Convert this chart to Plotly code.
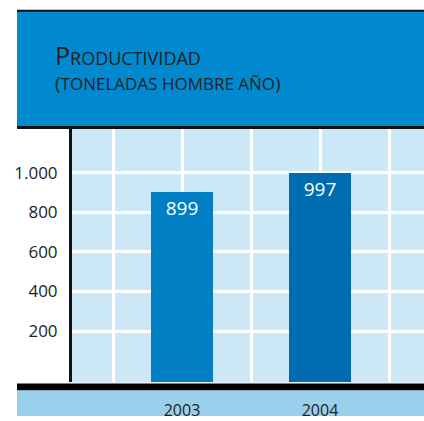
import plotly.graph_objects as go

years = [2003, 2004]
year_labels = ["2003", "2004"]
productividad = [899, 997]
bar_colors = ["#007FC4", "#006CB0"]
y_tick_vals = [200, 400, 600, 800, 1000]
y_tick_text = ["200", "400", "600", "800", "1.000"]

W, H = 424, 421
FONT = "Open Sans"
TXT = "#222222"

def px_x(x):
    return x / W

def px_y(y):
    return (H - y) / H

fig = go.Figure()
fig.add_trace(go.Bar(
    x=years, y=[v + 60 for v in productividad], base=-60,
    marker=dict(color=bar_colors, line=dict(width=0)),
    width=0.45,
    text=[str(v) for v in productividad],
    textposition="inside", insidetextanchor="end",
    textfont=dict(family=FONT, size=19, color="white"),
    hoverinfo="skip",
))

shapes = [
    # title box
    dict(type="rect", xref="paper", yref="paper", x0=px_x(17), x1=1, y0=px_y(129), y1=px_y(11),
         fillcolor="#0089CF", line=dict(width=0), layer="below"),
    dict(type="line", xref="paper", yref="paper", x0=px_x(17), x1=1, y0=px_y(11), y1=px_y(11),
         line=dict(color="#111111", width=2)),
    dict(type="line", xref="paper", yref="paper", x0=px_x(17), x1=1, y0=px_y(129), y1=px_y(129),
         line=dict(color="#111111", width=3)),
    # bottom strip
    dict(type="rect", xref="paper", yref="paper", x0=px_x(17), x1=1, y0=0, y1=px_y(395),
         fillcolor="#9BD0EC", line=dict(width=0), layer="below"),
    dict(type="rect", xref="paper", yref="paper", x0=px_x(17), x1=1, y0=px_y(395), y1=px_y(388),
         fillcolor="#000000", line=dict(width=0)),
]

annotations = [
    dict(xref="paper", yref="paper", x=px_x(53), y=px_y(56), xanchor="left", yanchor="middle",
         showarrow=False, text="P<span style='font-size:18px'>RODUCTIVIDAD</span>",
         font=dict(family=FONT, size=25, color=TXT)),
    dict(xref="paper", yref="paper", x=px_x(53), y=px_y(84), xanchor="left", yanchor="middle",
         showarrow=False, text="(<span style='font-size:17px'>TONELADAS HOMBRE AÑO</span>)",
         font=dict(family=FONT, size=19, color=TXT)),
]

fig.update_layout(
    width=W, height=H, autosize=False,
    margin=dict(l=0, r=0, t=0, b=0),
    paper_bgcolor="white", plot_bgcolor="#CCE7F5",
    showlegend=False, bargap=0,
    shapes=shapes, annotations=annotations,
    font=dict(family=FONT, color=TXT),
    xaxis=dict(
        domain=[px_x(72), 1],
        range=[2003 - 110 / 138, 2003 + 242 / 138],
        tickvals=years, ticktext=year_labels,
        ticks="outside", ticklen=13, tickcolor="rgba(0,0,0,0)",
        tickfont=dict(family=FONT, size=16, color=TXT),
        showgrid=True, gridcolor="white", gridwidth=3,
        minor=dict(tick0=2002.5, dtick=1, showgrid=True, gridcolor="white", gridwidth=3),
        zeroline=False, showline=False, fixedrange=True,
    ),
    yaxis=dict(
        domain=[px_y(387), px_y(130)],
        range=[-60, 1225],
        tickvals=y_tick_vals, ticktext=y_tick_text,
        ticks="outside", ticklen=8, tickcolor="rgba(0,0,0,0)",
        tickfont=dict(family=FONT, size=17, color=TXT),
        showgrid=True, gridcolor="white", gridwidth=3,
        zeroline=False, showline=True, linecolor="#111111", linewidth=3, fixedrange=True,
    ),
)

fig.write_html("out.html", config={"displayModeBar": False},
               post_script="document.body.style.margin='0';document.body.style.overflow='hidden';")
